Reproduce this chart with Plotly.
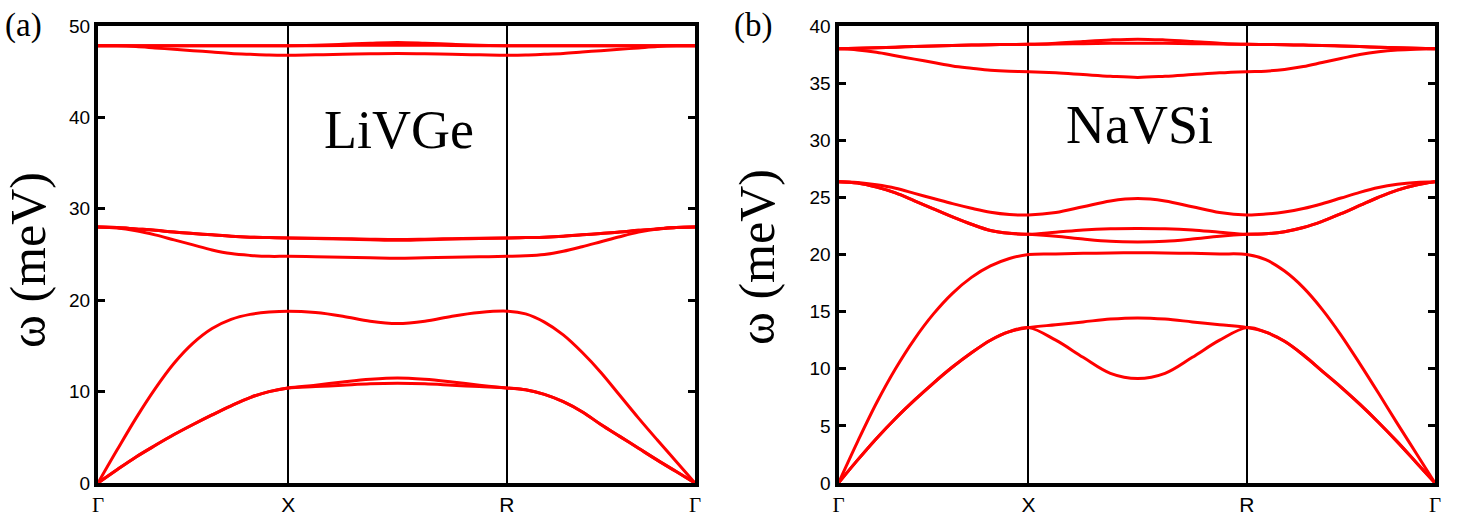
import plotly.graph_objects as go

W, H = 1465, 528

# k-path positions (Γ - X - R - Γ), node positions 0, 1.0, 2.15, 3.14
K = [0, 0.1, 0.2, 0.3, 0.4, 0.5, 0.6, 0.7, 0.8, 0.9, 1.0,
     1.14375, 1.2875, 1.43125, 1.575, 1.71875, 1.8625, 2.00625, 2.15,
     2.249, 2.348, 2.447, 2.546, 2.645, 2.744, 2.843, 2.942, 3.041, 3.14]
TICK_POS = [0, 1.0, 2.15, 3.14]
TICK_TXT = ["<span style='font-family:Liberation Serif'>Γ</span>", "X", "R",
            "<span style='font-family:Liberation Serif'>Γ</span>"]

# ---------------- LiVGe (meV) ----------------
LIVGE_TA1 = [0, 1.45, 2.85, 4.1, 5.3, 6.4, 7.45, 8.45, 9.35, 10.0, 10.4,
             10.55, 10.7, 10.85, 10.9, 10.85, 10.7, 10.55, 10.4,
             10.2, 9.7, 8.9, 7.8, 6.4, 5.1, 3.8, 2.5, 1.25, 0]
LIVGE_TA2 = [0, 1.45, 2.85, 4.1, 5.3, 6.4, 7.45, 8.45, 9.35, 10.0, 10.4,
             10.7, 11.05, 11.35, 11.5, 11.35, 11.05, 10.7, 10.4,
             10.2, 9.7, 8.9, 7.8, 6.4, 5.1, 3.8, 2.5, 1.25, 0]
LIVGE_LA = [0, 3.6, 7.1, 10.3, 13.1, 15.3, 16.9, 17.9, 18.45, 18.7, 18.8,
            18.65, 18.25, 17.7, 17.45, 17.7, 18.25, 18.65, 18.8,
            18.5, 17.6, 16.2, 14.3, 12.1, 9.6, 7.1, 4.7, 2.35, 0]
LIVGE_O1 = [28.0, 27.9, 27.6, 27.15, 26.6, 26.05, 25.5, 25.1, 24.9, 24.8, 24.8,
            24.75, 24.7, 24.65, 24.6, 24.65, 24.7, 24.75, 24.8,
            24.85, 25.0, 25.35, 25.85, 26.4, 26.95, 27.45, 27.8, 27.95, 28.0]
LIVGE_O2 = [28.0, 27.95, 27.8, 27.65, 27.45, 27.3, 27.15, 27.0, 26.9, 26.85, 26.8,
            26.75, 26.7, 26.62, 26.55, 26.62, 26.7, 26.75, 26.8,
            26.85, 26.9, 27.0, 27.15, 27.3, 27.45, 27.65, 27.8, 27.95, 28.0]
LIVGE_O3 = [28.0, 27.95, 27.8, 27.65, 27.45, 27.3, 27.15, 27.0, 26.9, 26.85, 26.8,
            26.78, 26.73, 26.68, 26.65, 26.68, 26.73, 26.78, 26.8,
            26.85, 26.9, 27.0, 27.15, 27.3, 27.45, 27.65, 27.8, 27.95, 28.0]
LIVGE_O4 = [47.85, 47.83, 47.75, 47.6, 47.45, 47.3, 47.15, 47.0, 46.9, 46.82, 46.8,
            46.85, 46.9, 46.97, 47.0, 46.97, 46.9, 46.85, 46.8,
            46.82, 46.9, 47.0, 47.15, 47.3, 47.45, 47.6, 47.75, 47.83, 47.85]
LIVGE_O5 = [47.85, 47.85, 47.85, 47.85, 47.85, 47.85, 47.85, 47.85, 47.85, 47.85, 47.85,
            47.85, 47.87, 47.9, 47.9, 47.9, 47.87, 47.85, 47.85,
            47.85, 47.85, 47.85, 47.85, 47.85, 47.85, 47.85, 47.85, 47.85, 47.85]
LIVGE_O6 = [47.85, 47.85, 47.85, 47.85, 47.85, 47.85, 47.85, 47.85, 47.85, 47.85, 47.85,
            47.9, 48.0, 48.12, 48.2, 48.12, 48.0, 47.9, 47.85,
            47.85, 47.85, 47.85, 47.85, 47.85, 47.85, 47.85, 47.85, 47.85, 47.85]

# ---------------- NaVSi (meV) ----------------
NAVSI_TA1 = [0, 2.0, 3.9, 5.65, 7.25, 8.75, 10.15, 11.4, 12.5, 13.25, 13.6,
             12.5, 11.0, 9.6, 9.15, 9.6, 11.0, 12.5, 13.6,
             13.2, 12.4, 11.2, 9.8, 8.4, 6.9, 5.3, 3.6, 1.8, 0]
NAVSI_TA2 = [0, 2.0, 3.9, 5.65, 7.25, 8.75, 10.15, 11.4, 12.5, 13.25, 13.6,
             13.85, 14.1, 14.35, 14.45, 14.35, 14.1, 13.85, 13.6,
             13.2, 12.4, 11.2, 9.8, 8.4, 6.9, 5.3, 3.6, 1.8, 0]
NAVSI_LA = [0, 3.6, 7.0, 10.0, 12.6, 14.8, 16.6, 18.0, 19.0, 19.65, 20.0,
            20.05, 20.1, 20.13, 20.15, 20.13, 20.1, 20.05, 20.0,
            19.55, 18.55, 17.1, 15.2, 12.95, 10.45, 7.85, 5.2, 2.6, 0]
NAVSI_O1 = [26.37, 26.25, 25.9, 25.4, 24.7, 24.0, 23.3, 22.65, 22.1, 21.85, 21.77,
            21.6, 21.35, 21.15, 21.1, 21.15, 21.35, 21.6, 21.77,
            21.82, 22.0, 22.36, 22.9, 23.57, 24.29, 25.01, 25.64, 26.09, 26.37]
NAVSI_O2 = [26.37, 26.25, 25.9, 25.4, 24.7, 24.0, 23.3, 22.65, 22.1, 21.85, 21.77,
            21.95, 22.15, 22.25, 22.27, 22.25, 22.15, 21.95, 21.77,
            21.82, 22.0, 22.36, 22.9, 23.57, 24.29, 25.01, 25.64, 26.09, 26.37]
NAVSI_O3 = [26.37, 26.3, 26.1, 25.8, 25.35, 24.9, 24.45, 24.05, 23.7, 23.5, 23.46,
            23.67, 24.18, 24.69, 24.9, 24.69, 24.18, 23.67, 23.46,
            23.54, 23.72, 24.02, 24.44, 24.94, 25.44, 25.86, 26.14, 26.31, 26.37]
NAVSI_O4 = [38.0, 37.9, 37.7, 37.4, 37.1, 36.8, 36.5, 36.3, 36.12, 36.03, 36.0,
            35.9, 35.75, 35.6, 35.5, 35.6, 35.75, 35.9, 36.0,
            36.05, 36.2, 36.45, 36.8, 37.15, 37.5, 37.75, 37.9, 37.97, 38.0]
NAVSI_O5 = [38.0, 38.05, 38.1, 38.15, 38.2, 38.25, 38.3, 38.33, 38.36, 38.38, 38.4,
            38.42, 38.45, 38.48, 38.5, 38.48, 38.45, 38.42, 38.4,
            38.38, 38.36, 38.33, 38.3, 38.25, 38.2, 38.15, 38.1, 38.05, 38.0]
NAVSI_O6 = [38.0, 38.05, 38.1, 38.15, 38.2, 38.25, 38.3, 38.33, 38.36, 38.38, 38.4,
            38.5, 38.65, 38.78, 38.85, 38.78, 38.65, 38.5, 38.4,
            38.38, 38.36, 38.33, 38.3, 38.25, 38.2, 38.15, 38.1, 38.05, 38.0]

LIVGE_BANDS = [LIVGE_TA1, LIVGE_TA2, LIVGE_LA, LIVGE_O1, LIVGE_O2, LIVGE_O3, LIVGE_O4, LIVGE_O5, LIVGE_O6]
NAVSI_BANDS = [NAVSI_TA1, NAVSI_TA2, NAVSI_LA, NAVSI_O1, NAVSI_O2, NAVSI_O3, NAVSI_O4, NAVSI_O5, NAVSI_O6]

fig = go.Figure()
for band in LIVGE_BANDS:
    fig.add_trace(go.Scatter(x=K, y=band, mode="lines", xaxis="x", yaxis="y",
                             line=dict(color="#ff0000", width=3, shape="spline", smoothing=1.0),
                             showlegend=False, hoverinfo="skip"))
for band in NAVSI_BANDS:
    fig.add_trace(go.Scatter(x=K, y=band, mode="lines", xaxis="x2", yaxis="y2",
                             line=dict(color="#ff0000", width=3, shape="spline", smoothing=1.0),
                             showlegend=False, hoverinfo="skip"))

def px(x):
    return x / W

def py(y):
    return 1 - y / H

ydom = [py(483), py(26)]
tickfont = dict(family="Liberation Sans", size=19, color="black")

xcommon = dict(range=[0, 3.14], tickvals=TICK_POS, ticktext=TICK_TXT, ticks="",
               showline=True, linewidth=4, linecolor="black", mirror=True,
               showgrid=True, gridcolor="black", gridwidth=2, zeroline=False,
               automargin=False,
               tickfont=dict(family="Liberation Sans", size=21, color="black"))
ycommon = dict(showline=True, linewidth=4, linecolor="black", mirror="ticks",
               ticks="inside", ticklen=7, tickwidth=3, tickcolor="black",
               showgrid=False, zeroline=False, automargin=False, tickfont=tickfont)

fig.update_layout(
    width=W, height=H,
    margin=dict(l=0, r=0, t=0, b=0, pad=0, autoexpand=False),
    paper_bgcolor="white", plot_bgcolor="white",
    xaxis=dict(domain=[px(98), px(695)], anchor="y", **xcommon),
    yaxis=dict(domain=ydom, anchor="x", range=[0, 50], tickvals=[0, 10, 20, 30, 40, 50], **ycommon),
    xaxis2=dict(domain=[px(838.5), px(1435)], anchor="y2", **xcommon),
    yaxis2=dict(domain=ydom, anchor="x2", range=[0, 40], tickvals=[0, 5, 10, 15, 20, 25, 30, 35, 40], **ycommon),
)

serif = "Liberation Serif"
ann = [
    dict(text="(a)", x=px(23), y=py(25), size=33),
    dict(text="(b)", x=px(753), y=py(25), size=33),
    dict(text="LiVGe", x=px(399), y=py(130), size=54),
    dict(text="NaVSi", x=px(1139), y=py(125), size=54),
]
for a in ann:
    fig.add_annotation(text=a["text"], x=a["x"], y=a["y"], xref="paper", yref="paper",
                       xanchor="center", yanchor="middle", showarrow=False,
                       font=dict(family=serif, size=a["size"], color="black"))
for (cx, cy) in [(28, 260), (757, 257)]:
    fig.add_annotation(text="ω (meV)", x=px(cx), y=py(cy), xref="paper", yref="paper",
                       xanchor="center", yanchor="middle", showarrow=False, textangle=-90,
                       font=dict(family=serif, size=50, color="black"))

fig.write_html("out.html")
